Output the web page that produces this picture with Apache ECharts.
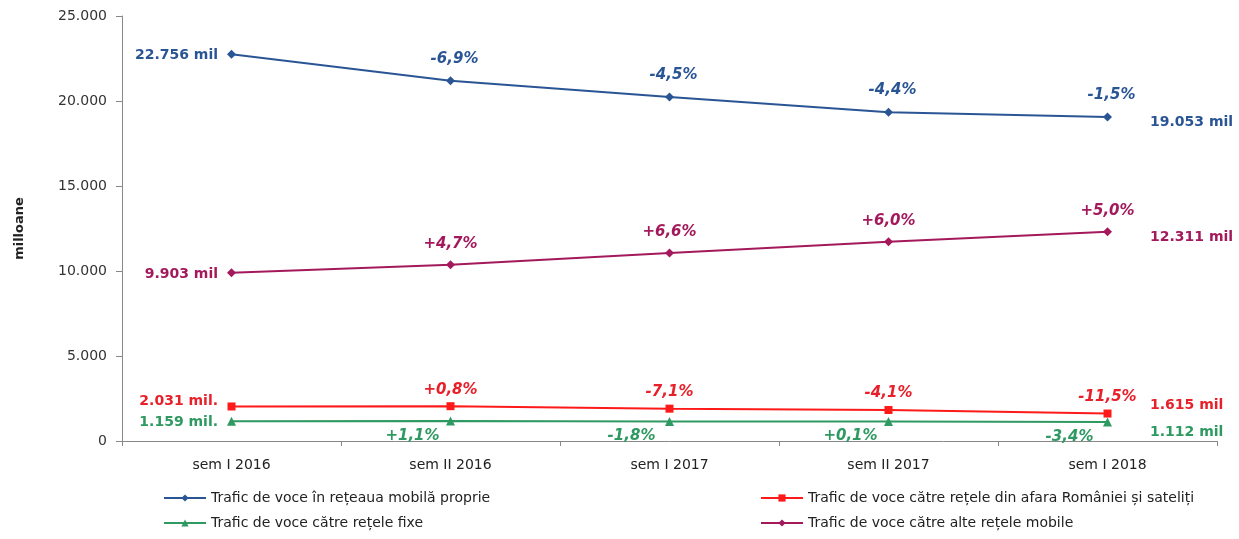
<!DOCTYPE html>
<html><head><meta charset="utf-8">
<script src="https://cdn.jsdelivr.net/npm/echarts@6/dist/echarts.min.js"></script>
<style>html,body{margin:0;padding:0;background:#fff}#c{width:1239px;height:539px}</style>
</head><body><div id="c"></div>
<script>
const categories = ['sem I 2016', 'sem II 2016', 'sem I 2017', 'sem II 2017', 'sem I 2018'];
const seriesNames = [
  'Trafic de voce în rețeaua mobilă proprie',
  'Trafic de voce către rețele din afara României și sateliți',
  'Trafic de voce către rețele fixe',
  'Trafic de voce către alte rețele mobile'
];
const ownNetwork = [22756, 21190, 20233, 19343, 19053];
const abroad = [2031, 2047, 1902, 1824, 1615];
const fixed = [1159, 1172, 1151, 1152, 1112];
const otherMobile = [9903, 10368, 11053, 11716, 12311];
const ownChg = ['', '-6,9%', '-4,5%', '-4,4%', '-1,5%'];
const abroadChg = ['', '+0,8%', '-7,1%', '-4,1%', '-11,5%'];
const fixedChg = ['', '+1,1%', '-1,8%', '+0,1%', '-3,4%'];
const otherChg = ['', '+4,7%', '+6,6%', '+6,0%', '+5,0%'];
const startLabels = ['22.756 mil', '2.031 mil.', '1.159 mil.', '9.903 mil'];
const endLabels = ['19.053 mil', '1.615 mil', '1.112 mil', '12.311 mil'];
const yTicks = [0, 5000, 10000, 15000, 20000, 25000];

const FONT = '"DejaVu Sans", Verdana, sans-serif';
const colors = ['#2A5595', '#FF1A1A', '#2E9960', '#A3195B'];
const labelColors = ['#2A5595', '#E8202A', '#2E9960', '#A3195B'];
const symbols = ['diamond', 'rect', 'triangle', 'diamond'];
const values = [ownNetwork, abroad, fixed, otherMobile];
const changes = [ownChg, abroadChg, fixedChg, otherChg];
const chgPos = [
  {position: 'top', distance: 10, offset: [4, 0]},
  {position: 'top', distance: 5, offset: [0, 0]},
  {position: 'bottom', distance: 3, offset: [-38, 0]},
  {position: 'top', distance: 9, offset: [0, 0]}
];
const startOff = [[0, 1], [0, -5], [0, 1], [0, 2]];
const endOff = [[0, 5], [0, -8], [0, 10], [0, 6]];

function fmt(v) { return String(v).replace(/\B(?=(\d{3})+(?!\d))/g, '.'); }

const series = values.map((vals, i) => ({
  name: seriesNames[i],
  type: 'line',
  data: vals,
  symbol: symbols[i],
  symbolSize: symbols[i] === 'rect' ? 8 : 9,
  lineStyle: {width: 2, color: colors[i]},
  itemStyle: {color: colors[i]},
  label: {
    show: true,
    position: chgPos[i].position,
    distance: chgPos[i].distance,
    offset: chgPos[i].offset,
    formatter: p => changes[i][p.dataIndex],
    fontFamily: FONT, fontSize: 15, fontWeight: 'bold', fontStyle: 'italic',
    color: labelColors[i]
  },
  markPoint: {
    symbol: 'circle', symbolSize: 1,
    itemStyle: {color: 'rgba(0,0,0,0)'},
    animation: false,
    data: [
      {coord: [categories[0], vals[0]], value: startLabels[i],
       label: {show: true, position: 'left', distance: 13, offset: startOff[i],
               formatter: startLabels[i], fontFamily: FONT, fontSize: 14, fontWeight: 'bold', color: labelColors[i]}},
      {coord: [categories[4], vals[4]], value: endLabels[i],
       label: {show: true, position: 'right', distance: 42, offset: endOff[i],
               formatter: endLabels[i], fontFamily: FONT, fontSize: 14, fontWeight: 'bold', color: labelColors[i]}}
    ]
  }
}));

const legendText = {fontFamily: FONT, fontSize: 14, color: '#222'};
const option = {
  animation: false,
  backgroundColor: '#fff',
  grid: {left: 122, right: 22, top: 16, bottom: 98},
  xAxis: {
    type: 'category', data: categories,
    axisLine: {lineStyle: {color: '#888', width: 1}},
    axisTick: {show: true, length: 5, lineStyle: {color: '#888'}},
    axisLabel: {fontFamily: FONT, fontSize: 14, color: '#222', margin: 17}
  },
  yAxis: {
    type: 'value', min: 0, max: 25000, interval: 5000,
    name: 'milloane', nameLocation: 'middle', nameRotate: 90, nameGap: 96,
    nameTextStyle: {fontFamily: FONT, fontSize: 13, fontWeight: 'bold', color: '#222'},
    axisLine: {show: true, lineStyle: {color: '#888', width: 1}},
    axisTick: {show: true, length: 6, lineStyle: {color: '#888'}},
    splitLine: {show: false},
    axisLabel: {fontFamily: FONT, fontSize: 14, color: '#333', margin: 15, formatter: v => fmt(v)}
  },
  legend: [
    {data: [seriesNames[0], seriesNames[2]], orient: 'vertical', left: 163, top: 491, padding: 0,
     itemWidth: 42, itemHeight: 9, itemGap: 11, textStyle: legendText},
    {data: [seriesNames[1], seriesNames[3]], orient: 'vertical', left: 760, top: 491, padding: 0,
     itemWidth: 42, itemHeight: 9, itemGap: 11, textStyle: legendText}
  ],
  series: series
};
echarts.init(document.getElementById('c'), null, {renderer: 'canvas'}).setOption(option);
</script></body></html>
